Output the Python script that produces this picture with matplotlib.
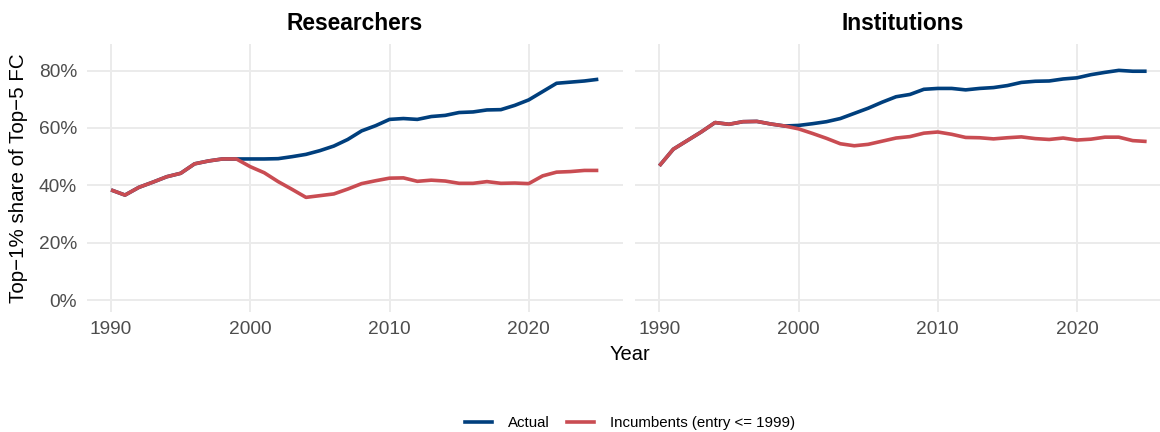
import matplotlib
matplotlib.use("Agg")
import matplotlib.pyplot as plt
from matplotlib.lines import Line2D
from matplotlib.ticker import FuncFormatter

plt.rcParams["font.family"] = ["Liberation Sans", "DejaVu Sans"]

years = list(range(1990, 2026))

# Researchers panel (percent)
res_actual = [38.4, 36.6, 39.3, 41.1, 43.0, 44.2, 47.5, 48.5, 49.2, 49.2,
              49.2, 49.2, 49.3, 50.0, 50.8, 52.1, 53.7, 56.0, 59.0, 60.8,
              63.0, 63.3, 63.0, 64.0, 64.4, 65.4, 65.6, 66.3, 66.4, 67.9,
              69.8, 72.7, 75.6, 76.0, 76.4, 77.0]
res_incumb = [38.4, 36.6, 39.3, 41.1, 43.0, 44.2, 47.5, 48.5, 49.2, 49.2,
              46.5, 44.4, 41.3, 38.6, 35.8, 36.4, 37.0, 38.7, 40.6, 41.6,
              42.5, 42.6, 41.4, 41.8, 41.5, 40.7, 40.7, 41.3, 40.7, 40.8,
              40.6, 43.3, 44.6, 44.8, 45.2, 45.2]

# Institutions panel (percent)
inst_actual = [46.8, 52.6, 55.6, 58.6, 61.9, 61.3, 62.2, 62.3, 61.4, 60.7,
               60.9, 61.5, 62.2, 63.3, 65.1, 66.9, 69.0, 70.9, 71.7, 73.5,
               73.8, 73.8, 73.3, 73.8, 74.1, 74.8, 75.9, 76.3, 76.4, 77.1,
               77.5, 78.6, 79.4, 80.1, 79.8, 79.8]
inst_incumb = [46.8, 52.6, 55.6, 58.6, 61.9, 61.3, 62.2, 62.3, 61.4, 60.7,
               59.7, 58.1, 56.4, 54.5, 53.8, 54.3, 55.4, 56.5, 57.0, 58.2,
               58.6, 57.8, 56.7, 56.6, 56.2, 56.6, 56.9, 56.3, 56.0, 56.5,
               55.8, 56.1, 56.8, 56.8, 55.6, 55.3]

panels = ["Researchers", "Institutions"]
series_names = ["Actual", "Incumbents (entry <= 1999)"]
colors = ["#003f7d", "#c94c52"]
x_ticks = [1990, 2000, 2010, 2020]
y_ticks = [0, 20, 40, 60, 80]

W, H = 1160, 432
fig = plt.figure(figsize=(W / 100, H / 100), dpi=100)

def px_box(x0, x1, y_top, y_bot):
    return [x0 / W, 1 - y_bot / H, (x1 - x0) / W, (y_bot - y_top) / H]

ax_left = fig.add_axes(px_box(86.7, 622.7, 44, 311.7))
ax_right = fig.add_axes(px_box(635, 1171, 44, 311.7))

grid_col = "#ebebeb"
tick_col = "#4d4d4d"
fs = 13.8

data = [(res_actual, res_incumb), (inst_actual, inst_incumb)]
for i, (ax, title, (act, inc)) in enumerate(zip([ax_left, ax_right], panels, data)):
    ax.plot(years, act, color=colors[0], lw=2.6, solid_joinstyle="round",
            solid_capstyle="butt", zorder=3)
    ax.plot(years, inc, color=colors[1], lw=2.6, solid_joinstyle="round",
            solid_capstyle="butt", zorder=4)
    ax.set_xlim(1988.25, 2026.75)
    ax.set_ylim(-4.08, 89.3)
    ax.set_xticks(x_ticks)
    ax.set_yticks(y_ticks)
    ax.yaxis.set_major_formatter(FuncFormatter(lambda v, p: f"{int(v)}%"))
    ax.grid(True, color=grid_col, lw=1.4, zorder=0)
    ax.set_axisbelow(True)
    for sp in ax.spines.values():
        sp.set_visible(False)
    ax.tick_params(length=0, labelsize=fs, labelcolor=tick_col, pad=7)
    ax.set_title(title, fontsize=16.4, fontweight="bold", pad=10)
    if i == 1:
        ax.tick_params(labelleft=False)

ax_left.set_ylabel("Top\u22121% share of Top\u22125 FC", fontsize=14.8, labelpad=8)
fig.text(630 / W, 1 - 355 / H, "Year", fontsize=14.5, ha="center", va="center")

handles = [Line2D([], [], color=c, lw=2.6) for c in colors]
fig.legend(handles, series_names, loc="center", bbox_to_anchor=(630 / W, 1 - 423 / H),
           ncol=2, frameon=False, fontsize=10.8, handlelength=1.8,
           handletextpad=1.1, columnspacing=1.1)

fig.savefig("out.png", dpi=100, facecolor="white")
